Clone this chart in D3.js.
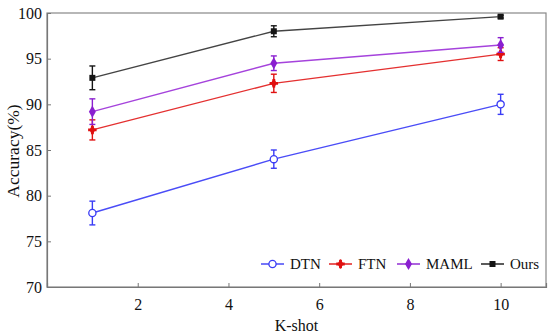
<!DOCTYPE html>
<html lang="en">
<head>
<meta charset="utf-8" />
<title>Accuracy vs K-shot</title>
<script src="https://cdn.jsdelivr.net/npm/d3@7"></script>
<style>
  body { margin:0; background:#fff; }
  svg, svg text { font-family:"Liberation Serif", "Times New Roman", serif !important; fill:#111; }
</style>
</head>
<body>
<div id="chart"></div>
<script>
// --- data ------------------------------------------------------------------
const kShots = [1, 5, 10];
const seriesNames = ["DTN", "FTN", "MAML", "Ours"];
const dtnMean  = [78.1, 84.0, 90.0];
const dtnErr   = [1.3, 1.0, 1.1];
const ftnMean  = [87.2, 92.3, 95.5];
const ftnErr   = [1.1, 1.0, 0.7];
const mamlMean = [89.2, 94.5, 96.5];
const mamlErr  = [1.4, 0.8, 0.8];
const oursMean = [92.9, 98.0, 99.6];
const oursErr  = [1.3, 0.6, 0.15];
const xTicks = [2, 4, 6, 8, 10];
const yTicks = [70, 75, 80, 85, 90, 95, 100];

const FONT = "'Liberation Serif', 'Times New Roman', serif";

const series = [
  { name:"DTN",  mean:dtnMean,  err:dtnErr,  color:"#3a3cf5", line:"#4a4cf7", symbol:"circle" },
  { name:"FTN",  mean:ftnMean,  err:ftnErr,  color:"#e01010", line:"#e43030", symbol:"plus" },
  { name:"MAML", mean:mamlMean, err:mamlErr, color:"#8a1fd0", line:"#a543dc", symbol:"diamond" },
  { name:"Ours", mean:oursMean, err:oursErr, color:"#151515", line:"#444",    symbol:"square" }
];

// --- layout ----------------------------------------------------------------
const W = 550, H = 334;
const m = { top:13, right:4, bottom:47, left:47 };
const iw = W - m.left - m.right, ih = H - m.top - m.bottom;

const svg = d3.select("#chart").append("svg").attr("width", W).attr("height", H)
  .attr("font-family", FONT);
const g = svg.append("g").attr("transform", `translate(${m.left},${m.top})`);

const x = d3.scaleLinear().domain([0, 11]).range([0, iw]);
const y = d3.scaleLinear().domain([70, 100]).range([ih, 0]);

// frame
g.append("rect").attr("width", iw).attr("height", ih)
  .attr("fill", "none").attr("stroke", "#888").attr("stroke-width", 1.2);

// axes (ticks pointing inward)
const xAxis = g.append("g").attr("transform", `translate(0,${ih})`)
  .call(d3.axisBottom(x).tickValues(xTicks).tickSize(-4).tickPadding(12).tickFormat(d3.format("d")));
const yAxis = g.append("g")
  .call(d3.axisLeft(y).tickValues(yTicks).tickSize(-4).tickPadding(5).tickFormat(d3.format("d")));
[xAxis, yAxis].forEach(a => {
  a.attr("font-family", FONT).attr("font-size", 16);
  a.select(".domain").attr("stroke", "#777").attr("stroke-width", 1.2);
  a.selectAll(".tick line").attr("stroke", "#777");
  a.selectAll(".tick text").attr("font-size", 16).attr("fill", "#111");
});

// axis titles
svg.append("text").attr("x", m.left + x(5.5)).attr("y", 331)
  .attr("text-anchor", "middle").attr("font-size", 16).text("K-shot");
svg.append("text").attr("transform", `translate(19,151) rotate(-90)`)
  .attr("text-anchor", "middle").attr("font-size", 17.5).text("Accuracy(%)");

// marker helper
function drawMarker(sel, s, cx, cy) {
  if (s.symbol === "circle") {
    sel.append("circle").attr("cx", cx).attr("cy", cy).attr("r", 3.6)
      .attr("fill", "#fff").attr("stroke", s.color).attr("stroke-width", 1.3);
  } else if (s.symbol === "square") {
    sel.append("rect").attr("x", cx - 3).attr("y", cy - 3).attr("width", 6).attr("height", 6)
      .attr("fill", s.color);
  } else if (s.symbol === "diamond") {
    sel.append("path").attr("transform", `translate(${cx},${cy})`)
      .attr("d", d3.symbol(d3.symbolDiamond, 42)()).attr("fill", s.color);
  } else {
    sel.append("path").attr("transform", `translate(${cx},${cy})`)
      .attr("d", d3.symbol(d3.symbolDiamond, 30)()).attr("fill", s.color);
    sel.append("path").attr("transform", `translate(${cx},${cy})`)
      .attr("d", d3.symbol(d3.symbolCross, 40)()).attr("fill", s.color);
  }
}

const line = d3.line().x(d => x(d.k)).y(d => y(d.v));

series.forEach(s => {
  const pts = kShots.map((k, i) => ({ k, v:s.mean[i], e:s.err[i] }));
  const sg = g.append("g");
  sg.append("path").datum(pts).attr("d", line)
    .attr("fill", "none").attr("stroke", s.line).attr("stroke-width", 1.4);
  pts.forEach(p => {
    const cx = x(p.k), y0 = y(p.v - p.e), y1 = y(p.v + p.e);
    sg.append("line").attr("x1", cx).attr("x2", cx).attr("y1", y0).attr("y2", y1)
      .attr("stroke", s.color).attr("stroke-width", 1.4);
    [y0, y1].forEach(yy => sg.append("line").attr("x1", cx - 3).attr("x2", cx + 3)
      .attr("y1", yy).attr("y2", yy).attr("stroke", s.color).attr("stroke-width", 1.4));
    drawMarker(sg, s, cx, y(p.v));
  });
});

// legend
const legX = [261, 329, 397, 481];
const legY = 264;
series.forEach((s, i) => {
  const lg = svg.append("g");
  lg.append("line").attr("x1", legX[i]).attr("x2", legX[i] + 23).attr("y1", legY).attr("y2", legY)
    .attr("stroke", s.color).attr("stroke-width", 1.4);
  drawMarker(lg, s, legX[i] + 11.5, legY);
  lg.append("text").attr("x", legX[i] + 29).attr("y", legY + 5)
    .attr("font-size", 15).text(seriesNames[i]);
});
</script>
</body>
</html>
